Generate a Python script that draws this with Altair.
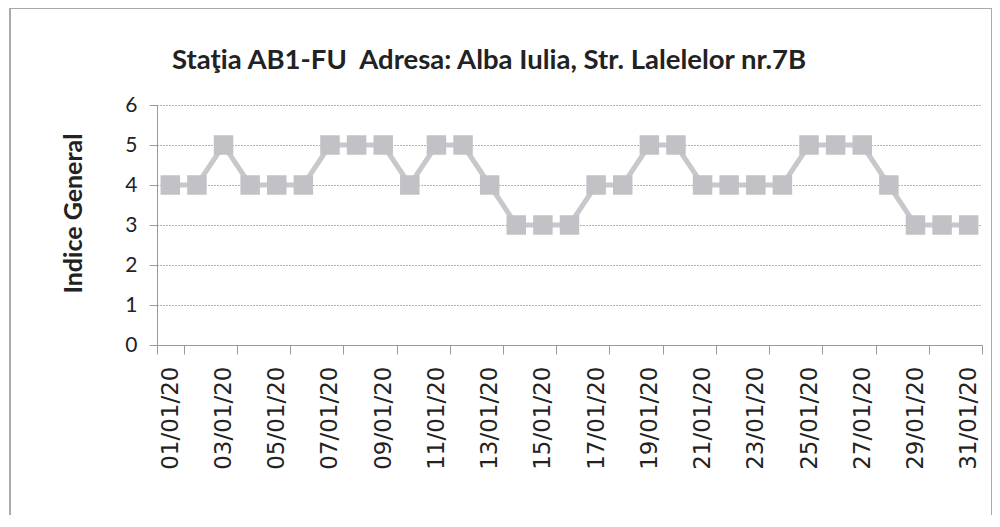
import altair as alt
import pandas as pd

days = [f"{d:02d}/01/20" for d in range(1, 32)]
values = [4, 4, 5, 4, 4, 4, 5, 5, 5, 4, 5, 5, 4, 3, 3, 3, 4, 4, 5, 5, 4, 4, 4, 4, 5, 5, 5, 4, 3, 3, 3]
shown_labels = days[::2]

df = pd.DataFrame({"data": days, "indice": values})

FONT = "Lato"

x = alt.X("data:O", sort=days, title=None,
          scale=alt.Scale(paddingInner=0, paddingOuter=0),
          axis=alt.Axis(values=shown_labels, labelAngle=-90, labelFontSize=23, labelFont="DejaVu Sans",
                        labelColor="#222", labelPadding=12, tickBand="extent", tickSize=9,
                        tickColor="#999", domainColor="#999", labelAlign="right", labelBaseline="middle"))
y = alt.Y("indice:Q", title="Indice General",
          scale=alt.Scale(domain=[0, 6], nice=False),
          axis=alt.Axis(values=[0, 1, 2, 3, 4, 5, 6], labelFontSize=21, labelFont=FONT, labelColor="#222",
                        grid=True, gridColor="#666", gridDash=[1, 2], gridWidth=1,
                        tickSize=8, tickColor="#999", domainColor="#999", labelPadding=12,
                        titleFont=FONT, titleFontSize=25, titleFontWeight="bold", titleColor="#222",
                        titlePadding=38, titleY=108))

line = alt.Chart(df).mark_line(color="#c8c8cc", strokeWidth=5).encode(x=x, y=y)
pts = alt.Chart(df).mark_square(size=380, color="#c2c2c6", opacity=1).encode(x=x, y=y)

frame = alt.Chart(df).mark_rect(fill=None, stroke="#aaa", strokeWidth=1).encode(
    x=alt.value(-147), x2=alt.value(835), y=alt.value(-97), y2=alt.value(430))

chart = alt.layer(frame, line, pts).properties(
    width=825, height=240,
    title=alt.TitleParams("Staţia AB1-FU\u00a0 Adresa: Alba Iulia, Str. Lalelelor nr.7B",
                          anchor="start", frame="group", dx=15, dy=97, offset=30, font=FONT, fontSize=27.5,
                          fontWeight="bold", color="#222"),
    autosize=alt.AutoSizeParams(type="none"),
    padding={"left": 149, "top": 97, "right": 10, "bottom": 170},
).configure_view(stroke=None)

chart.save("out.html", embed_options={"renderer": "svg", "actions": False})
